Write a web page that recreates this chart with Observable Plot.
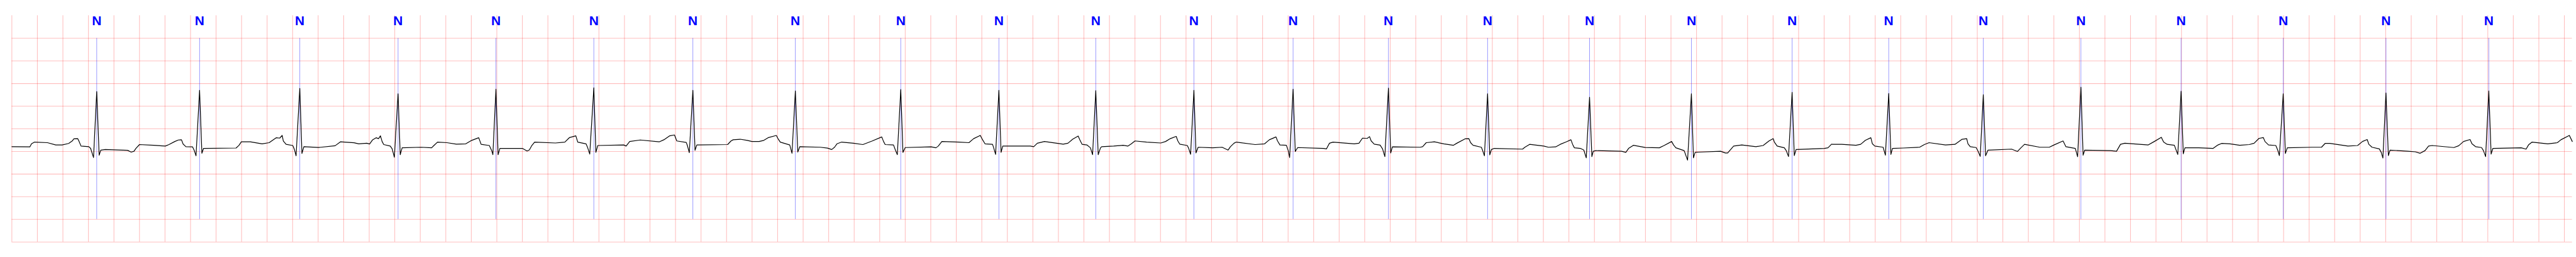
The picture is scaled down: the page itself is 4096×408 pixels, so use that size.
<!DOCTYPE html>
<html>
<head>
<meta charset="utf-8">
<script src="https://cdn.jsdelivr.net/npm/d3@7"></script>
<script src="https://cdn.jsdelivr.net/npm/@observablehq/plot@0.6"></script>
<style>
  html, body { margin: 0; padding: 0; background: #fff; }
  #chart svg { display: block; }
</style>
</head>
<body>
<div id="chart"></div>
<script>
// Beat annotations (R-peak times, s) and their labels
const beatTimes = [0.665, 1.471, 2.256, 3.026, 3.793, 4.560, 5.336, 6.139, 6.965, 7.734, 8.493, 9.262, 10.039, 10.786, 11.563, 12.362, 13.160, 13.949, 14.706, 15.447, 16.212, 16.997, 17.797, 18.602, 19.408];
const beatLabels = beatTimes.map(() => "N");

// Grid: 0.2 s major boxes, 0.5 mV major boxes
const xGridStep = 0.2;
const xMax = 20.062;
const yTicks = [-2, -1.5, -1, -0.5, 0, 0.5, 1, 1.5, 2, 2.5];

// ECG trace [time s, mV] in segments
const seg1 = [[0.000,0.106],[0.141,0.101],[0.154,0.169],[0.178,0.207],[0.279,0.194],[0.344,0.144],[0.394,0.144],[0.445,0.177],[0.473,0.232],[0.486,0.278],[0.516,0.283],[0.525,0.232],[0.542,0.119],[0.603,0.106],[0.617,0.068],[0.640,-0.134],[0.665,1.323],[0.684,-0.083],[0.697,0.030],[0.732,0.043],[0.907,0.025],[0.935,-0.015],[0.957,0.005],[0.972,0.068],[1.000,0.152],[1.111,0.136],[1.203,0.119],[1.231,0.152],[1.277,0.220],[1.305,0.253],[1.329,0.258],[1.342,0.162],[1.364,0.106],[1.416,0.101],[1.428,0.030],[1.443,-0.096],[1.471,1.351],[1.489,-0.040],[1.502,0.068],[1.757,0.076],[1.780,0.136],[1.798,0.212],[1.868,0.212],[1.961,0.169],[2.016,0.194],[2.071,0.303],[2.099,0.295],[2.118,0.354],[2.127,0.232],[2.149,0.157],[2.201,0.131],[2.214,0.043],[2.227,-0.096],[2.256,1.394],[2.273,-0.045],[2.288,0.106],[2.404,0.088],[2.533,0.126],[2.574,0.212],[2.681,0.192],[2.718,0.169]];
const seg2 = [[2.781,0.182],[2.803,0.164],[2.827,0.258],[2.854,0.303],[2.873,0.283],[2.888,0.346],[2.901,0.220],[2.914,0.152],[2.965,0.119],[2.980,0.056],[2.997,-0.129],[3.026,1.275],[3.043,-0.071],[3.058,0.081],[3.206,0.093],[3.289,0.081],[3.307,0.131],[3.335,0.207],[3.409,0.194],[3.483,0.162],[3.557,0.169],[3.603,0.245],[3.658,0.303],[3.677,0.157],[3.741,0.131],[3.760,0.018],[3.769,-0.071],[3.793,1.376],[3.810,-0.071],[3.824,0.068],[4.000,0.068],[4.037,0.010],[4.055,0.035],[4.074,0.131],[4.096,0.207],[4.259,0.187],[4.333,0.207],[4.370,0.308],[4.419,0.346],[4.434,0.207],[4.499,0.169],[4.512,0.081],[4.528,-0.058],[4.560,1.407],[4.576,-0.020],[4.591,0.131],[4.795,0.144],[4.813,0.119],[4.841,0.220],[4.924,0.253],[5.072,0.212],[5.109,0.258],[5.155,0.346],[5.192,0.364],[5.210,0.232],[5.284,0.199],[5.293,0.131],[5.308,-0.028],[5.336,1.351],[5.353,0.025],[5.367,0.144],[5.608,0.152],[5.635,0.232]];
const seg3 = [[5.652,0.258],[5.707,0.270],[5.762,0.245],[5.799,0.220],[5.855,0.220],[5.892,0.245],[5.929,0.308],[5.990,0.354],[6.003,0.283],[6.021,0.207],[6.095,0.144],[6.113,-0.040],[6.139,1.338],[6.158,-0.013],[6.174,0.106],[6.335,0.093],[6.391,0.073],[6.424,0.043],[6.446,0.093],[6.465,0.169],[6.502,0.207],[6.594,0.182],[6.668,0.152],[6.742,0.232],[6.816,0.321],[6.830,0.220],[6.843,0.152],[6.908,0.144],[6.923,0.030],[6.938,-0.071],[6.965,1.369],[6.982,-0.020],[7.000,0.086],[7.204,0.101],[7.241,0.081],[7.259,0.119],[7.287,0.220],[7.425,0.207],[7.499,0.194],[7.536,0.283],[7.588,0.354],[7.601,0.283],[7.625,0.169],[7.684,0.157],[7.693,0.081],[7.708,-0.066],[7.734,1.351],[7.751,-0.020],[7.764,0.119],[7.980,0.119],[8.007,0.106],[8.035,0.182],[8.091,0.220],[8.238,0.162],[8.275,0.182],[8.312,0.270],[8.355,0.341],[8.368,0.258],[8.386,0.157],[8.423,0.144],[8.451,0.081],[8.468,-0.071],[8.493,1.343],[8.512,-0.071]];
const seg4 = [[8.530,0.081],[8.541,0.106],[8.633,0.119],[8.707,0.136],[8.744,0.119],[8.772,0.169],[8.800,0.232],[8.892,0.207],[9.003,0.187],[9.040,0.220],[9.077,0.283],[9.123,0.333],[9.136,0.232],[9.151,0.162],[9.210,0.131],[9.221,0.068],[9.236,-0.063],[9.262,1.351],[9.278,-0.033],[9.295,0.093],[9.409,0.081],[9.483,0.093],[9.529,0.030],[9.548,0.106],[9.576,0.182],[9.594,0.207],[9.742,0.152],[9.816,0.169],[9.853,0.258],[9.905,0.321],[9.917,0.232],[9.936,0.144],[9.986,0.136],[10.001,0.018],[10.012,-0.134],[10.039,1.374],[10.056,0.000],[10.075,0.086],[10.278,0.068],[10.300,0.056],[10.324,0.182],[10.352,0.207],[10.518,0.169],[10.555,0.182],[10.583,0.295],[10.620,0.288],[10.638,0.328],[10.651,0.232],[10.675,0.162],[10.721,0.139],[10.740,0.056],[10.758,-0.114],[10.786,1.399],[10.804,-0.033],[10.817,0.101],[11.035,0.093],[11.054,0.106],[11.082,0.194],[11.146,0.212],[11.220,0.169],[11.294,0.136],[11.322,0.182],[11.386,0.278]];
const seg5 = [[11.416,0.283],[11.430,0.194],[11.449,0.136],[11.514,0.093],[11.523,0.030],[11.538,-0.096],[11.563,1.275],[11.580,-0.076],[11.593,0.043],[11.615,0.068],[11.837,0.051],[11.855,0.093],[11.892,0.157],[12.003,0.119],[12.040,0.093],[12.096,0.101],[12.132,0.157],[12.179,0.212],[12.216,0.258],[12.229,0.157],[12.243,0.081],[12.290,0.068],[12.317,0.030],[12.336,-0.141],[12.362,1.199],[12.380,-0.114],[12.391,0.005],[12.410,0.018],[12.613,0.005],[12.646,-0.020],[12.668,0.068],[12.705,0.136],[12.798,0.088],[12.909,0.081],[12.946,0.131],[13.005,0.220],[13.020,0.144],[13.038,0.081],[13.103,0.018],[13.130,-0.192],[13.160,1.275],[13.176,-0.141],[13.189,-0.020],[13.213,-0.015],[13.389,0.005],[13.426,-0.033],[13.444,-0.033],[13.463,0.030],[13.491,0.119],[13.555,0.144],[13.666,0.106],[13.722,0.131],[13.768,0.232],[13.801,0.283],[13.810,0.207],[13.832,0.119],[13.888,0.081],[13.903,0.018],[13.921,-0.111],[13.949,1.306],[13.966,-0.091],[13.980,0.043],[14.202,0.068],[14.230,0.081],[14.258,0.162]];
const seg6 = [[14.264,0.157],[14.338,0.157],[14.449,0.136],[14.486,0.157],[14.523,0.245],[14.566,0.303],[14.578,0.169],[14.597,0.119],[14.662,0.093],[14.680,-0.083],[14.706,1.280],[14.723,-0.066],[14.735,0.068],[14.819,0.076],[14.948,0.093],[14.985,0.152],[15.022,0.194],[15.151,0.144],[15.225,0.157],[15.281,0.270],[15.317,0.283],[15.327,0.169],[15.345,0.106],[15.391,0.086],[15.406,0.005],[15.423,-0.109],[15.447,1.255],[15.465,-0.096],[15.484,0.030],[15.669,0.051],[15.715,0.000],[15.742,0.081],[15.770,0.157],[15.890,0.093],[15.964,0.093],[16.001,0.144],[16.072,0.232],[16.094,0.106],[16.168,0.068],[16.186,-0.116],[16.212,1.419],[16.229,-0.083],[16.242,0.030],[16.445,0.018],[16.491,0.005],[16.522,0.157],[16.556,0.182],[16.740,0.144],[16.787,0.220],[16.842,0.313],[16.860,0.207],[16.888,0.157],[16.944,0.136],[16.958,0.030],[16.971,-0.066],[16.997,1.331],[17.014,-0.051],[17.027,0.081]];
const seg7 = [[17.135,0.081],[17.248,0.068],[17.286,0.144],[17.314,0.177],[17.380,0.169],[17.456,0.136],[17.531,0.152],[17.569,0.182],[17.607,0.288],[17.641,0.308],[17.654,0.220],[17.682,0.144],[17.739,0.131],[17.754,0.030],[17.767,-0.091],[17.797,1.273],[17.814,-0.045],[17.829,0.081],[18.022,0.093],[18.097,0.093],[18.125,0.177],[18.163,0.177],[18.304,0.119],[18.380,0.131],[18.418,0.220],[18.455,0.263],[18.468,0.157],[18.493,0.093],[18.550,0.056],[18.565,-0.020],[18.578,-0.146],[18.602,1.293],[18.621,-0.091],[18.634,0.030],[18.776,0.005],[18.832,-0.008],[18.870,-0.040],[18.908,0.018],[18.936,0.119],[18.964,0.131],[19.134,0.086],[19.172,0.126],[19.210,0.220],[19.261,0.263],[19.276,0.169],[19.304,0.106],[19.351,0.086],[19.366,0.018],[19.383,-0.114],[19.408,1.338],[19.426,-0.058],[19.440,0.068],[19.662,0.081],[19.700,0.051],[19.719,0.144],[19.747,0.207],[19.870,0.169],[19.945,0.194],[19.973,0.258],[20.039,0.354],[20.062,0.220]];

const ecg = [...seg1, ...seg2, ...seg3, ...seg4, ...seg5, ...seg6, ...seg7].map(([t, mv]) => ({t, mv}));
const xTicks = d3.range(0, Math.round(20 / xGridStep) + 1).map(i => +(i * xGridStep).toFixed(3));
const beats = beatTimes.map((t, i) => ({t, label: beatLabels[i]}));

const chart = Plot.plot({
  width: 4096,
  height: 408,
  marginLeft: 18.35,
  marginRight: 6.4,
  marginTop: 24.3,
  marginBottom: 24.3,
  style: {background: "#fff"},
  x: {domain: [0, xMax], axis: null},
  y: {domain: [-2, 3], axis: null},
  marks: [
    Plot.ruleX(xTicks, {x: d => d, stroke: "red", strokeOpacity: 0.25, strokeWidth: 1.1}),
    Plot.ruleY(yTicks, {y: d => d, stroke: "red", strokeOpacity: 0.25, strokeWidth: 1.1}),
    Plot.ruleX(beats, {x: "t", y1: () => -1.5, y2: () => 2.5, stroke: "blue", strokeOpacity: 0.5, strokeWidth: 0.8}),
    Plot.line(ecg, {x: "t", y: "mv", stroke: "black", strokeWidth: 1.2}),
    Plot.text(beats, {x: "t", text: "label", frameAnchor: "top", lineAnchor: "top", fill: "blue", fontWeight: "bold", fontSize: 21, fontFamily: "'Liberation Sans', Arial, sans-serif"})
  ]
});
document.getElementById("chart").appendChild(chart);
</script>
</body>
</html>
